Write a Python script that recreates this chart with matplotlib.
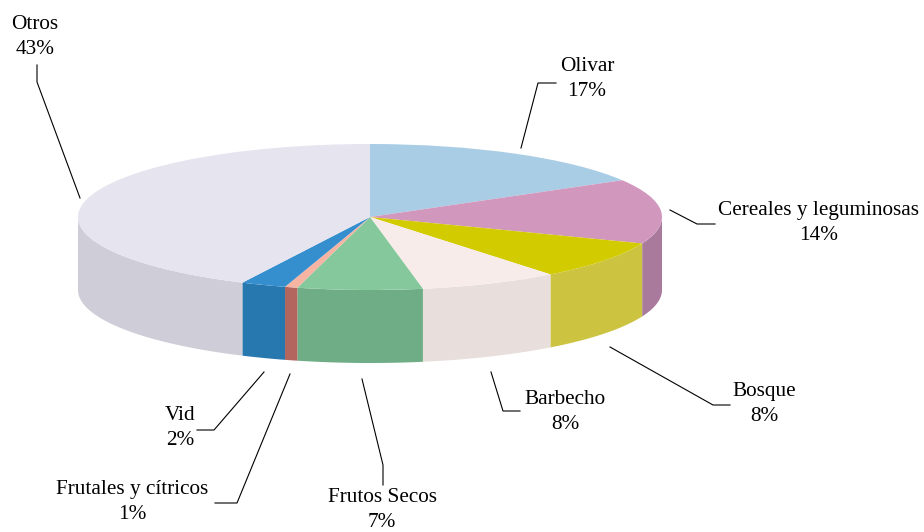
import numpy as np
import matplotlib
matplotlib.use('Agg')
import matplotlib.pyplot as plt
from matplotlib.lines import Line2D

plt.rcParams['font.family'] = ['Liberation Serif', 'DejaVu Serif']

# datos
categorias = ['Olivar', 'Cereales y leguminosas', 'Bosque', 'Barbecho',
              'Frutos Secos', 'Frutales y cítricos', 'Vid', 'Otros']
# valores estimados de la imagen, las etiquetas van redondeadas
valores = [16.6, 14.3, 8.5, 7.7, 6.9, 0.7, 2.5, 42.8]
porcentajes = [17, 14, 8, 8, 7, 1, 2, 43]

colores_top = ['#AACDE6', '#D197BD', '#D2CB00', '#F8ECEA',
               '#85C89B', '#F7B4A2', '#358FCF', '#E6E4EF']
colores_lado = ['#8FAEC4', '#A97A9C', '#CCC340', '#E8DFDD',
                '#6FAD87', '#B3665E', '#2878B0', '#CFCDD8']

W, H = 924, 532
fig = plt.figure(figsize=(W / 100, H / 100), dpi=100)


def px(x, y):
    return x / W, 1 - y / H


# ejes: la tarta unidad ocupa la elipse superior
x0, x1, y0, y1 = 78, 662, 144, 290
ax = fig.add_axes([x0 / W, 1 - y1 / H, (x1 - x0) / W, (y1 - y0) / H])
ax.patch.set_alpha(0)

# paredes laterales
fondo = 1.0
acum = np.cumsum([0] + valores) / sum(valores) * 2 * np.pi
for i in range(len(valores)):
    a, b = acum[i], acum[i + 1]
    # solo se ve la mitad delantera de la elipse
    a2, b2 = max(a, np.pi / 2), min(b, 3 * np.pi / 2)
    if b2 <= a2:
        continue
    t = np.linspace(a2, b2, 80)
    xs = np.sin(t)
    ys = np.cos(t)
    ax.fill(np.r_[xs, xs[::-1]], np.r_[ys, ys[::-1] - fondo],
            color=colores_lado[i], lw=0, clip_on=False)

# cara superior
ax.pie(valores, colors=colores_top, startangle=90, counterclock=False,
       radius=1, wedgeprops={'linewidth': 0})
ax.set_aspect('auto')
ax.set_xlim(-1, 1)
ax.set_ylim(-1, 1)
for p in ax.patches:
    p.set_clip_on(False)
ax.axis('off')

# etiquetas
centros = [(587, 79), (819, 223), (764, 404), (565, 412),
           (382, 510), (132, 502), (180, 428), (35, 37)]
for nombre, v, (cx, cy) in zip(categorias, porcentajes, centros):
    fx, fy = px(cx, cy)
    fig.text(fx, fy, f'{nombre}\n{v}%', ha='center', va='center',
             fontsize=15.3, color='black', linespacing=1.45)

# lineas guia
guias = [
    [(521, 148), (538, 83), (556, 83)],
    [(670, 210), (697, 224), (715, 224)],
    [(610, 347), (713, 405), (730, 405)],
    [(491, 372), (503, 411), (520, 411)],
    [(362, 379), (383, 465), (383, 485)],
    [(290, 374), (237, 503), (215, 503)],
    [(264, 372), (214, 430), (197, 430)],
    [(80, 198), (37, 82), (37, 65)],
]
for g in guias:
    pts = [px(*q) for q in g]
    fig.add_artist(Line2D([q[0] for q in pts], [q[1] for q in pts],
                          color='black', lw=0.8, transform=fig.transFigure))

fig.savefig('out.png', dpi=100, facecolor='white')
